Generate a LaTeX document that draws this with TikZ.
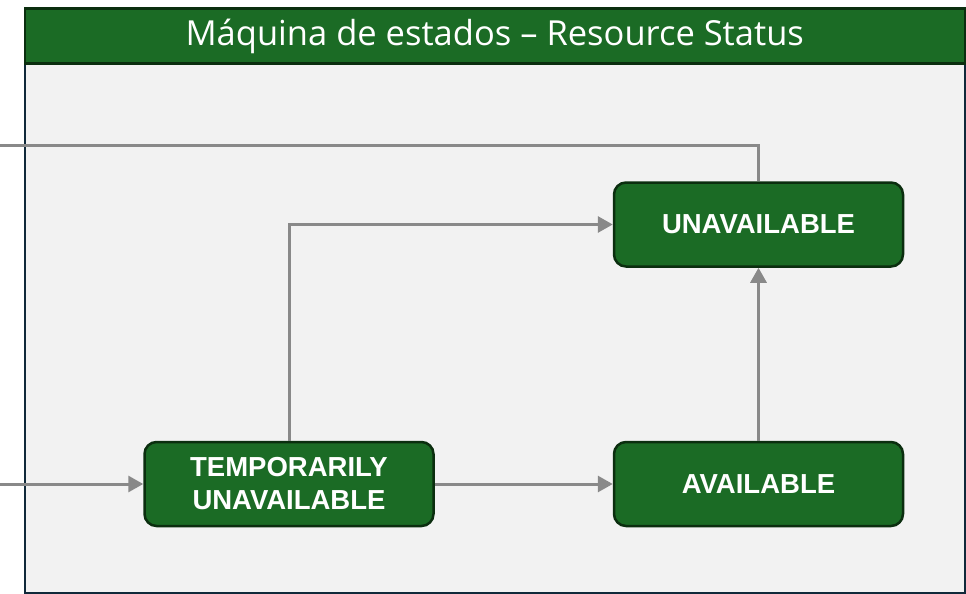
\documentclass[tikz,border=0pt]{standalone}
\usepackage{fontspec}
\setmainfont{Liberation Sans}
\newfontfamily\titlefont{Open Sans}
\usetikzlibrary{arrows.meta}
\definecolor{nodegreen}{HTML}{1B6B25}
\definecolor{darkgreen}{HTML}{0B2E0F}
\definecolor{framenavy}{HTML}{10293A}
\definecolor{panelgray}{HTML}{F2F2F2}
\definecolor{linegray}{HTML}{898989}
\tikzset{
  statebox/.style={draw=darkgreen, line width=2.5pt, fill=nodegreen, rounded corners=12pt,
    minimum width=289pt, minimum height=84pt, text=white, font=\bfseries\fontsize{27.5}{33}\selectfont,
    align=center, inner sep=0pt},
  conn/.style={draw=linegray, line width=3pt},
  arr/.style={conn, -{Triangle[length=15pt,width=16pt]}},
}
\begin{document}
\begin{tikzpicture}[x=1pt,y=-1pt]
\useasboundingbox (0,0) rectangle (966,594);
% panel
\node[draw=framenavy, line width=2.5pt, fill=panelgray, minimum width=940pt, minimum height=584pt, inner sep=0pt, anchor=north west] (panel) at (23.5,7.5) {};
\node[draw=darkgreen, line width=2.5pt, fill=nodegreen, minimum width=940pt, minimum height=55pt, inner sep=0pt, anchor=north west, text=white, font=\titlefont\fontsize{34.5}{40}\selectfont] (title) at (23.5,7.5) {Máquina de estados – Resource Status};
% states
\node[statebox] (unav) at (758.5,224.5) {UNAVAILABLE};
\node[statebox] (temp) at (289,484) {TEMPORARILY\\UNAVAILABLE};
\node[statebox] (avail) at (758.5,484) {AVAILABLE};
% free ends
\coordinate (outtop) at (0,145);
\coordinate (inleft) at (0,484);
% connectors
\draw[conn] (unav.north) |- (outtop);
\draw[arr] (inleft) -- (temp.west);
\draw[arr] (temp.east) -- (avail.west);
\draw[arr] (temp.north) |- (unav.west);
\draw[arr] (avail.north) -- (unav.south);
\end{tikzpicture}
\end{document}
